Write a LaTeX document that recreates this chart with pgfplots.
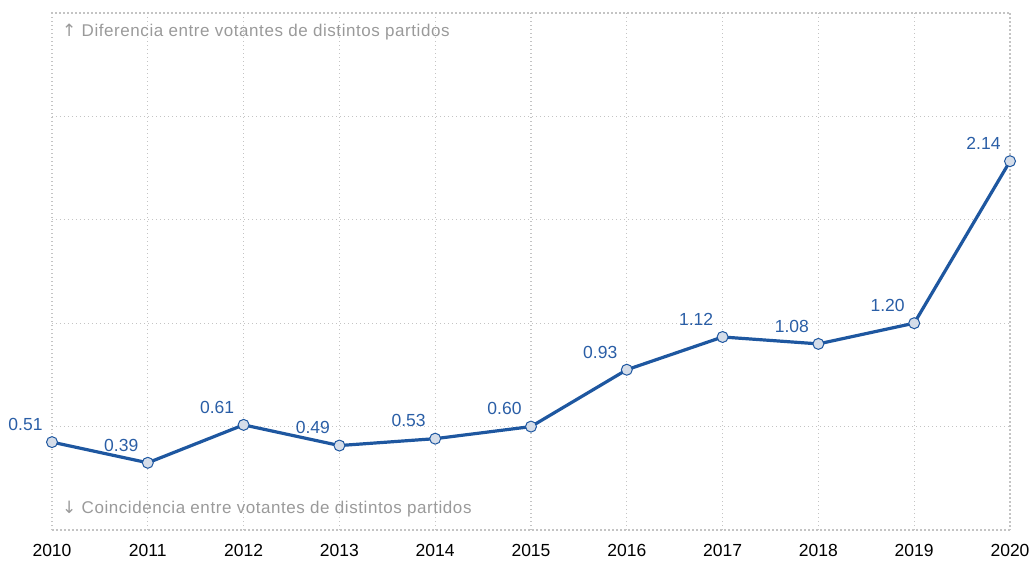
\documentclass[border=0pt]{standalone}
\usepackage{pgfplots}
\pgfplotsset{compat=1.18}
\usepackage{fontspec}
\setmainfont{Liberation Sans}
\newfontfamily\notefont[LetterSpace=3.3]{Liberation Sans}
\newfontfamily\arrowfont{DejaVu Sans}
\definecolor{lineblue}{HTML}{1E57A0}
\definecolor{labblue}{HTML}{2A5EA6}
\definecolor{markfill}{HTML}{D5DDE9}
\definecolor{gridgray}{HTML}{C4C4C4}
\definecolor{notegray}{HTML}{9A9A9A}
\begin{document}
\begin{tikzpicture}
\begin{axis}[
    scale only axis,
    width=958pt, height=517pt,
    xmin=2010, xmax=2020,
    ymin=0, ymax=3,
    xtick={2010,2011,...,2020},
    xticklabels={2010,2011,2012,2013,2014,2015,2016,2017,2018,2019,2020},
    ytick={0,0.6,1.2,1.8,2.4,3},
    yticklabels={},
    major tick length=0pt,
    x tick label style={font=\fontsize{17.5}{20}\selectfont, text=black,
        anchor=north, inner sep=0pt, yshift=-14pt},
    grid=major,
    major grid style={gridgray, line width=1.2pt, dash pattern=on 1.2pt off 2.8pt},
    axis line style={gridgray, line width=1.2pt, dash pattern=on 1.2pt off 2.8pt},
    clip=false,
    point meta=explicit symbolic,
    nodes near coords,
    nodes near coords style={anchor=south east, inner sep=0pt,
        xshift=-9pt, yshift=11pt, text=labblue,
        font=\fontsize{17.5}{19}\selectfont},
]
% valores de la serie
\addplot[lineblue, line width=3.2pt, mark=*, mark size=5.5pt,
    mark options={fill=markfill, draw=lineblue, line width=1pt}]
coordinates {
    (2010,0.51) [0.51]
    (2011,0.39) [0.39]
    (2012,0.61) [0.61]
    (2013,0.49) [0.49]
    (2014,0.53) [0.53]
    (2015,0.60) [0.60]
    (2016,0.93) [0.93]
    (2017,1.12) [1.12]
    (2018,1.08) [1.08]
    (2019,1.20) [1.20]
    (2020,2.14) [2.14]
};
\node[anchor=base west, inner sep=0pt, text=notegray,
    font=\fontsize{17}{19}\notefont]
    at ([xshift=10pt,yshift=-24pt]rel axis cs:0,1)
    {{\arrowfont ↑} Diferencia entre votantes de distintos partidos};
\node[anchor=base west, inner sep=0pt, text=notegray,
    font=\fontsize{17}{19}\notefont]
    at ([xshift=10pt,yshift=17pt]rel axis cs:0,0)
    {{\arrowfont ↓} Coincidencia entre votantes de distintos partidos};
\coordinate (sw) at (rel axis cs:0,0);
\coordinate (ne) at (rel axis cs:1,1);
\end{axis}
\pgfresetboundingbox
\path ([xshift=-52pt,yshift=-30pt]sw) rectangle ([xshift=23pt,yshift=13pt]ne);
\end{tikzpicture}
\end{document}
